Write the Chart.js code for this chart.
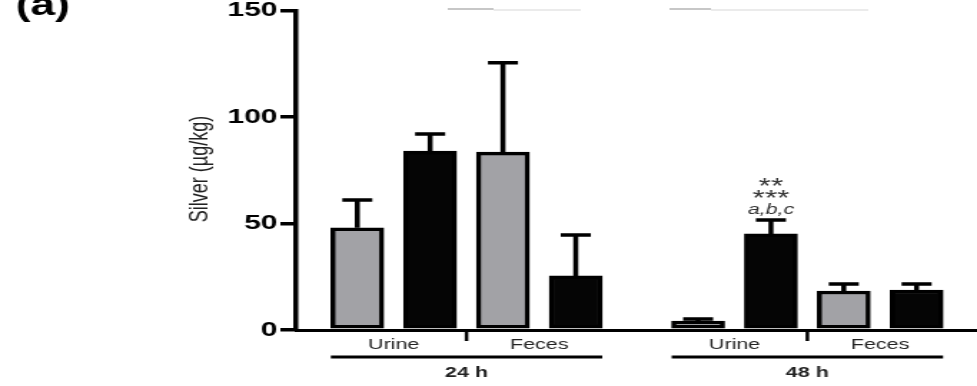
<!DOCTYPE html>
<html lang="en">
<head>
    <meta charset="UTF-8">
    <title>Silver excretion</title>
    <script src="https://cdn.jsdelivr.net/npm/chart.js"></script>
    <style>
        html, body { margin: 0; padding: 0; background: #fff; overflow: hidden; }
        /* the original figure is stretched sideways, so the canvas is too */
        #wrap { width: 683px; height: 386px; transform: scaleX(1.4305); transform-origin: 0 0; }
    </style>
</head>
<body>
    <div id="wrap"><canvas id="silverChart" width="683" height="386"></canvas></div>

    <script>
        // data (order: 24 h Urine, 24 h Feces, 48 h Urine, 48 h Feces)
        const timePoints = ['24 h', '48 h'];
        const matrices = ['Urine', 'Feces'];
        const grayMeans = [48, 83.5, 4.2, 18.3];
        const grayErrors = [13, 42, 1, 3.3];
        const blackMeans = [84, 25.4, 45.1, 18.8];
        const blackErrors = [8, 19.2, 6.5, 2.8];
        const yTicks = [0, 50, 100, 150];
        const significance = ['**', '***', 'a,b,c'];   // above 48 h Urine, black bar

        const FONT = "'Liberation Sans', Arial, sans-serif";
        const GROUP_SHIFT = 4.68;   // distance between the 24 h and 48 h groups, in bar slots
        const BAR_W = 37;

        function slot(k, s) {
            // k = index in the arrays above, s = 0 gray / 1 black
            const g = Math.floor(k / 2), m = k % 2;
            return g * GROUP_SHIFT + m * 2 + s;
        }

        const grayData = grayMeans.map((v, k) => ({ x: slot(k, 0), y: v }));
        const blackData = blackMeans.map((v, k) => ({ x: slot(k, 1), y: v }));

        const errorBars = {
            id: 'errorBars',
            afterDatasetsDraw(chart) {
                const ctx = chart.ctx;
                const y = chart.scales.y;
                const errs = [grayErrors, blackErrors];
                const means = [grayMeans, blackMeans];
                ctx.save();
                ctx.strokeStyle = '#000';
                ctx.lineWidth = 3.5;
                [0, 1].forEach(d => {
                    chart.getDatasetMeta(d).data.forEach((bar, i) => {
                        const top = y.getPixelForValue(means[d][i] + errs[d][i]);
                        ctx.beginPath();
                        ctx.moveTo(bar.x, bar.y);
                        ctx.lineTo(bar.x, top);
                        ctx.moveTo(bar.x - 10.5, top);
                        ctx.lineTo(bar.x + 10.5, top);
                        ctx.stroke();
                    });
                });

                // significance marks over 48 h Urine (black)
                const bar = chart.getDatasetMeta(1).data[2];
                const capY = y.getPixelForValue(blackMeans[2] + blackErrors[2]);
                ctx.fillStyle = '#333';
                ctx.textAlign = 'center';
                ctx.textBaseline = 'alphabetic';
                ctx.font = 'italic 15px ' + FONT;
                ctx.fillText(significance[2], bar.x, capY - 6);
                ctx.font = '22px ' + FONT;
                ctx.fillText(significance[1], bar.x, capY - 15);
                ctx.fillText(significance[0], bar.x, capY - 27);
                ctx.restore();
            }
        };

        const axisDecor = {
            id: 'axisDecor',
            afterDraw(chart) {
                const ctx = chart.ctx;
                const x = chart.scales.x;
                const area = chart.chartArea;
                ctx.save();
                ctx.strokeStyle = '#000';
                ctx.fillStyle = '#222';
                ctx.textAlign = 'center';
                ctx.textBaseline = 'middle';

                timePoints.forEach((t, g) => {
                    const base = g * GROUP_SHIFT;
                    // category labels
                    ctx.font = '15px ' + FONT;
                    matrices.forEach((m, j) => {
                        ctx.fillText(m, x.getPixelForValue(base + j * 2 + 0.5), area.bottom + 15);
                    });
                    // small divider tick
                    const mid = x.getPixelForValue(base + 1.5);
                    ctx.lineWidth = 2.5;
                    ctx.beginPath();
                    ctx.moveTo(mid, area.bottom);
                    ctx.lineTo(mid, area.bottom + 11);
                    ctx.stroke();
                    // group line + label
                    const x0 = x.getPixelForValue(base) - BAR_W / 2;
                    const x1 = x.getPixelForValue(base + 3) + BAR_W / 2;
                    ctx.lineWidth = 3;
                    ctx.beginPath();
                    ctx.moveTo(x0, area.bottom + 27);
                    ctx.lineTo(x1, area.bottom + 27);
                    ctx.stroke();
                    ctx.font = 'bold 15px ' + FONT;
                    ctx.fillText(t, mid, area.bottom + 43);
                });

                // y axis title
                ctx.save();
                ctx.translate(140, 169);
                ctx.rotate(-Math.PI / 2);
                ctx.font = '18px ' + FONT;
                ctx.fillText('Silver (\u00b5g/kg)', 0, 0);
                ctx.restore();

                // panel letter, cut off by the crop
                ctx.fillStyle = '#000';
                ctx.textAlign = 'left';
                ctx.textBaseline = 'alphabetic';
                ctx.font = 'bold 31px ' + FONT;
                ctx.fillText('(a)', 11, 15);

                // what is left of the cropped legend
                ctx.lineWidth = 2;
                ctx.strokeStyle = 'rgba(0,0,0,0.22)';
                ctx.beginPath();
                ctx.moveTo(313, 9); ctx.lineTo(345, 9);
                ctx.moveTo(468, 9); ctx.lineTo(497, 9);
                ctx.stroke();
                ctx.strokeStyle = 'rgba(0,0,0,0.08)';
                ctx.beginPath();
                ctx.moveTo(345, 10); ctx.lineTo(406, 10);
                ctx.moveTo(497, 10); ctx.lineTo(607, 10);
                ctx.stroke();
                ctx.restore();
            }
        };

        new Chart(document.getElementById('silverChart'), {
            type: 'bar',
            data: {
                datasets: [{
                    label: 'Group 1',
                    data: grayData,
                    backgroundColor: '#a2a2a6',
                    borderColor: '#000',
                    borderWidth: 3.5,
                    borderSkipped: false,
                    barThickness: BAR_W,
                    grouped: false
                }, {
                    label: 'Group 2',
                    data: blackData,
                    backgroundColor: '#050505',
                    borderColor: '#000',
                    borderWidth: 3.5,
                    borderSkipped: false,
                    barThickness: BAR_W,
                    grouped: false
                }]
            },
            options: {
                responsive: false,
                animation: false,
                layout: { padding: { top: 10.5, right: 0, bottom: 0, left: 0 } },
                plugins: { legend: { display: false }, tooltip: { enabled: false } },
                scales: {
                    x: {
                        type: 'linear',
                        offset: false,
                        min: -0.84,
                        max: 8.51,
                        grid: { display: false },
                        ticks: { display: false },
                        border: { display: true, color: '#000', width: 3 },
                        afterFit(s) { s.height = 56; s.paddingLeft = 0; s.paddingRight = 0; }
                    },
                    y: {
                        min: 0,
                        max: 150,
                        afterBuildTicks(s) { s.ticks = yTicks.map(v => ({ value: v })); },
                        grid: {
                            display: true,
                            drawOnChartArea: false,
                            drawTicks: true,
                            tickLength: 11,
                            color: '#000',
                            lineWidth: 3.5
                        },
                        border: { display: true, color: '#000', width: 3.5 },
                        ticks: {
                            color: '#000',
                            padding: 2,
                            font: { family: FONT, size: 21, weight: 'bold' }
                        },
                        afterFit(s) { s.width = 207; s.paddingTop = 0; s.paddingBottom = 0; }
                    }
                }
            },
            plugins: [errorBars, axisDecor]
        });
    </script>
</body>
</html>
